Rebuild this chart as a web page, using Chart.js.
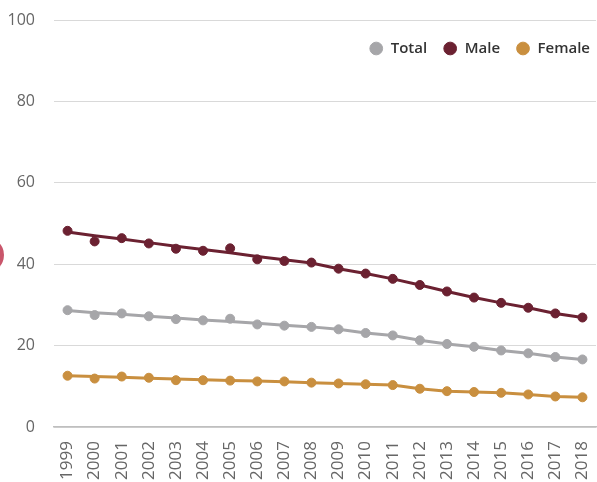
<!DOCTYPE html>
<html>
<head>
<meta charset="utf-8">
<script src="https://cdn.jsdelivr.net/npm/chart.js@4/dist/chart.umd.min.js"></script>
<style>
  html, body { margin: 0; padding: 0; background: #fff; overflow: hidden; }
  #wrap { position: relative; width: 597px; height: 482px; }
  #c { display: block; width: 597px; height: 482px; }
  #dot { position: absolute; left: -32px; top: 237px; width: 36px; height: 36px; border-radius: 50%; background: #c9566b; }
</style>
</head>
<body>
<div id="wrap">
  <canvas id="c" width="597" height="482"></canvas>
  <div id="dot"></div>
</div>
<script>
// Years on the x axis
const years = ['1999','2000','2001','2002','2003','2004','2005','2006','2007','2008',
               '2009','2010','2011','2012','2013','2014','2015','2016','2017','2018'];

// Observed rates (points)
const totalRates  = [28.7, 27.5, 27.9, 27.2, 26.5, 26.2, 26.6, 25.2, 24.9, 24.6, 24.0, 23.1, 22.5, 21.3, 20.4, 19.7, 18.8, 18.1, 17.2, 16.6];
const maleRates   = [48.2, 45.6, 46.4, 45.1, 43.8, 43.3, 43.9, 41.2, 40.8, 40.4, 38.9, 37.7, 36.4, 34.9, 33.3, 31.8, 30.5, 29.3, 27.9, 26.9];
const femaleRates = [12.6, 11.9, 12.4, 12.1, 11.5, 11.5, 11.4, 11.2, 11.2, 10.9, 10.7, 10.5, 10.3, 9.4, 8.8, 8.6, 8.4, 8.0, 7.5, 7.3];

// Fitted trend (lines)
const totalTrend  = [28.6, 28.1, 27.7, 27.2, 26.8, 26.3, 25.9, 25.5, 25.0, 24.6, 24.0, 23.1, 22.5, 21.3, 20.4, 19.7, 18.8, 18.1, 17.2, 16.6];
const maleTrend   = [47.9, 47.0, 46.2, 45.3, 44.4, 43.6, 42.8, 41.9, 41.1, 40.3, 38.9, 37.7, 36.4, 34.9, 33.3, 31.8, 30.5, 29.3, 27.9, 26.9];
const femaleTrend = [12.6, 12.4, 12.2, 12.0, 11.8, 11.6, 11.4, 11.3, 11.1, 10.9, 10.7, 10.5, 10.3, 9.4, 8.8, 8.6, 8.4, 8.0, 7.5, 7.3];

const yTicks = [0, 20, 40, 60, 80, 100];

const COLORS = { total: '#a6a6a9', male: '#6b2131', female: '#c98f3f' };
const FONT = "'Open Sans', 'Noto Sans', sans-serif";

function pointSet(label, data, color) {
  return {
    label, data, showLine: false, order: 0,
    backgroundColor: color, borderColor: color,
    pointStyle: 'circle', pointRadius: 4.5, pointBorderWidth: 1,
    pointBackgroundColor: color, pointBorderColor: color
  };
}
function trendSet(label, data, color) {
  return {
    label, data, order: 1, inLegend: false,
    borderColor: color, backgroundColor: color,
    borderWidth: 3, pointRadius: 0, tension: 0, fill: false
  };
}

// Legend floats over the plot: it takes no layout height and sits in the top-right corner
const floatingLegend = {
  id: 'floatingLegend',
  afterInit(chart) {
    const lg = chart.legend;
    if (!lg) return;
    const fit = lg.fit;
    lg.fit = function () { fit.call(this); this.height = 0; };
  },
  afterLayout(chart) {
    const lg = chart.legend;
    if (!lg) return;
    lg.top = 25; lg.bottom = 70;
    lg.left += 10; lg.right += 10;
  }
};

new Chart(document.getElementById('c'), {
  type: 'line',
  data: {
    labels: years,
    datasets: [
      pointSet('Total', totalRates, COLORS.total),
      pointSet('Male', maleRates, COLORS.male),
      pointSet('Female', femaleRates, COLORS.female),
      trendSet('Total trend', totalTrend, COLORS.total),
      trendSet('Male trend', maleTrend, COLORS.male),
      trendSet('Female trend', femaleTrend, COLORS.female)
    ]
  },
  options: {
    responsive: false,
    animation: false,
    layout: { autoPadding: false, padding: { left: 8, right: 1, top: 20, bottom: 0 } },
    scales: {
      x: {
        offset: true,
        grid: { display: false, drawTicks: false, offset: true },
        border: { display: true, color: '#bfbfbf', width: 1.5 },
        ticks: {
          minRotation: 90, maxRotation: 90, autoSkip: false, padding: 14,
          color: '#666', font: { family: FONT, size: 17 }
        },
        afterFit(scale) { scale.height = 55; scale.paddingLeft = 0; scale.paddingRight = 0; }
      },
      y: {
        min: 0, max: 100,
        afterBuildTicks(scale) { scale.ticks = yTicks.map(v => ({ value: v })); },
        grid: { color: '#d9d9d9', lineWidth: 1, drawTicks: false },
        border: { display: false },
        ticks: { padding: 19, color: '#666', font: { family: FONT, size: 16 } },
        afterFit(scale) { scale.width = 46; scale.paddingTop = 0; scale.paddingBottom = 0; }
      }
    },
    plugins: {
      legend: {
        position: 'top',
        align: 'end',
        labels: {
          usePointStyle: true, pointStyle: 'circle',
          boxWidth: 14, boxHeight: 9, padding: 16,
          color: '#333', font: { family: FONT, size: 15, weight: '600' },
          filter: (item, data) => data.datasets[item.datasetIndex].inLegend !== false
        }
      },
      tooltip: { enabled: false }
    }
  },
  plugins: [floatingLegend]
});
</script>
</body>
</html>
